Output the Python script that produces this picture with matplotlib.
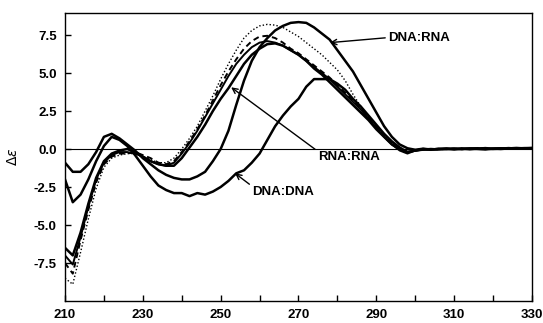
import matplotlib
matplotlib.use("Agg")
import matplotlib.pyplot as plt
import numpy as np

plt.rcParams['font.family'] = ['Liberation Sans', 'DejaVu Sans']

# wavelength grid (nm)
wavelength = list(range(210, 332, 2))

# tail 302-330 nm, near the baseline
tail_a = [0.02, -0.03, 0.0, 0.03, -0.02, 0.01, 0.04, 0.0, -0.02, 0.03, 0.05, 0.02, 0.04, 0.06, 0.05]
tail_b = [-0.04, 0.0, -0.03, 0.01, 0.03, -0.01, 0.02, 0.05, 0.01, 0.0, 0.03, 0.06, 0.03, 0.05, 0.07]
tail_c = [-0.02, -0.05, 0.02, -0.01, 0.0, 0.04, -0.02, 0.02, 0.06, 0.02, 0.0, 0.04, 0.07, 0.04, 0.06]

dna_rna = [-0.9, -1.5, -1.5, -1.0, -0.2, 0.8, 1.0, 0.7, 0.3, -0.1,
           -0.6, -1.0, -1.4, -1.7, -1.9, -2.0, -2.0, -1.8, -1.5, -0.8,
           0.0, 1.2, 2.9, 4.5, 5.8, 6.7, 7.3, 7.8, 8.1, 8.3,
           8.35, 8.3, 8.0, 7.6, 7.2, 6.5, 5.8, 5.1, 4.2, 3.3,
           2.4, 1.5, 0.8, 0.3, 0.05, -0.05] + tail_a

dna_dna = [-2.0, -3.5, -3.0, -2.0, -0.8, 0.2, 0.8, 0.6, 0.2, -0.4,
           -1.1, -1.8, -2.4, -2.7, -2.9, -2.9, -3.1, -2.9, -3.0, -2.8,
           -2.5, -2.1, -1.6, -1.4, -0.9, -0.3, 0.6, 1.5, 2.2, 2.8,
           3.3, 4.1, 4.6, 4.6, 4.6, 4.3, 3.9, 3.3, 2.8, 2.2,
           1.6, 1.0, 0.5, 0.1, -0.2, -0.1] + tail_b

rna_rna = [-6.5, -7.0, -5.5, -3.6, -1.9, -0.8, -0.3, -0.1, 0.0, -0.2,
           -0.5, -0.8, -1.0, -1.1, -1.1, -0.6, 0.1, 0.8, 1.6, 2.5,
           3.3, 4.0, 4.8, 5.6, 6.2, 6.6, 6.9, 6.95, 6.8, 6.5,
           6.2, 5.8, 5.3, 4.9, 4.4, 3.9, 3.4, 2.9, 2.4, 1.9,
           1.3, 0.8, 0.3, 0.0, -0.2, -0.1] + tail_c

hybrid_solid = [-7.0, -7.6, -5.8, -3.8, -2.0, -0.9, -0.4, -0.2, -0.2, -0.3,
                -0.5, -0.8, -1.0, -1.1, -0.9, -0.3, 0.4, 1.2, 2.1, 3.0,
                3.9, 4.8, 5.6, 6.2, 6.7, 7.0, 7.1, 7.0, 6.8, 6.5,
                6.2, 5.8, 5.4, 5.0, 4.6, 4.1, 3.6, 3.1, 2.6, 2.0,
                1.4, 0.8, 0.3, -0.1, -0.3, -0.1] + tail_a

hybrid_dashed = [-7.5, -8.2, -6.0, -4.0, -2.2, -1.0, -0.5, -0.3, -0.3, -0.2,
                 -0.4, -0.6, -0.9, -1.0, -0.8, -0.2, 0.5, 1.3, 2.2, 3.2,
                 4.2, 5.1, 5.9, 6.6, 7.1, 7.4, 7.45, 7.3, 7.0, 6.6,
                 6.3, 5.9, 5.5, 5.1, 4.7, 4.2, 3.7, 3.2, 2.7, 2.1,
                 1.5, 0.9, 0.4, 0.0, -0.2, -0.1] + tail_b

hybrid_dotted = [-8.5, -8.9, -6.8, -4.6, -2.6, -1.2, -0.6, -0.4, -0.3, -0.3,
                 -0.5, -0.7, -0.9, -0.9, -0.6, 0.0, 0.7, 1.5, 2.5, 3.5,
                 4.6, 5.6, 6.5, 7.3, 7.8, 8.1, 8.2, 8.15, 8.0, 7.7,
                 7.4, 7.0, 6.6, 6.2, 5.7, 5.2, 4.5, 3.6, 2.8, 2.1,
                 1.5, 0.9, 0.4, 0.0, -0.2, -0.1] + tail_c

x_ticks = [210, 230, 250, 270, 290, 310, 330]
y_ticks = [-7.5, -5.0, -2.5, 0.0, 2.5, 5.0, 7.5]

fig = plt.figure(figsize=(5.43, 3.23), dpi=100)
ax = fig.add_axes([0.1197, 0.0681, 0.86, 0.8917])

ax.axhline(0, color='black', lw=0.8, zorder=1)

ax.plot(wavelength, hybrid_dotted, color='black', lw=1.0, ls=(0, (1, 1.5)))
ax.plot(wavelength, hybrid_dashed, color='black', lw=1.4, ls=(0, (3, 2)))
ax.plot(wavelength, hybrid_solid, color='black', lw=1.4)
ax.plot(wavelength, rna_rna, color='black', lw=1.8)
ax.plot(wavelength, dna_dna, color='black', lw=1.8)
ax.plot(wavelength, dna_rna, color='black', lw=1.8)

ax.set_xlim(210, 330)
ax.set_ylim(-10, 8.95)
ax.set_xticks(x_ticks)
ax.set_xticks(range(220, 330, 20), minor=True)
ax.set_yticks(y_ticks)
ax.set_yticklabels([f'{v:.1f}' for v in y_ticks])
ax.tick_params(which='both', direction='in', length=4, width=1)
ax.tick_params(axis='x', pad=6, labelsize=9.5)
ax.tick_params(axis='y', pad=6, labelsize=9.5)
for lbl in ax.get_xticklabels() + ax.get_yticklabels():
    lbl.set_fontweight('bold')
for sp in ax.spines.values():
    sp.set_linewidth(1.0)

ax.set_ylabel(r'$\Delta\varepsilon$', fontsize=10, labelpad=10)

arrow = dict(arrowstyle='->', color='black', lw=1.0, shrinkA=0, shrinkB=0)
ax.annotate('DNA:RNA', xy=(278.1, 7.0), xytext=(293.0, 7.33),
            fontsize=9.5, fontweight='bold', ha='left', va='center',
            arrowprops=dict(arrow, relpos=(0, 0.5)))
ax.annotate('RNA:RNA', xy=(252.7, 4.06), xytext=(275.0, -0.55),
            fontsize=9.5, fontweight='bold', ha='left', va='center',
            arrowprops=dict(arrow, relpos=(0, 1)))
ax.annotate('DNA:DNA', xy=(253.7, -1.6), xytext=(258.1, -2.85),
            fontsize=9.5, fontweight='bold', ha='left', va='center',
            arrowprops=dict(arrow, relpos=(0, 1)))

fig.savefig('out.png', dpi=100)
